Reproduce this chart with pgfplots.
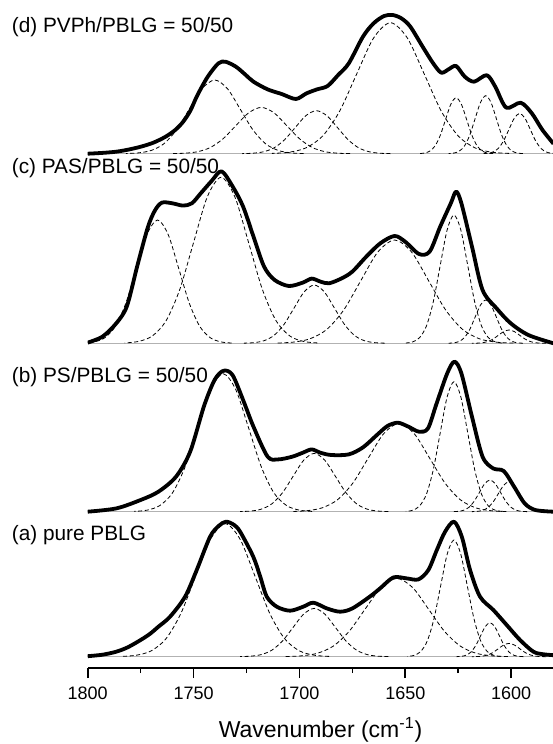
\documentclass[border=0pt]{standalone}
\usepackage{fontspec}
\setmainfont{Liberation Sans}
\usepackage{pgfplots}
\pgfplotsset{compat=1.18}

\pgfplotsset{
  tot/.style={black, line width=1.9pt, line join=round, smooth, no marks},
  comp/.style={black, line width=0.4pt, dash pattern=on 2pt off 1.3pt, smooth, no marks},
  base/.style={gray!60, line width=0.5pt, no marks},
  pa/.style={y filter/.expression={y+11.3}},
  pb/.style={y filter/.expression={y+156.3}},
  pc/.style={y filter/.expression={y+324.7}},
  pd/.style={y filter/.expression={y+514.3}},
}

\begin{document}
\begin{tikzpicture}
\path[use as bounding box] (0,0) rectangle (276pt,372pt);
\begin{axis}[
  at={(43.85pt,38pt)}, anchor=south west,
  scale only axis, width=232.9pt, height=334pt,
  xmin=1580, xmax=1800, ymin=0, ymax=668,
  x dir=reverse,
  axis x line*=bottom, axis y line=none, ytick=\empty,
  axis line style={line width=0.85pt, -},
  xtick={1600,1650,...,1800},
  xticklabels={},
  minor x tick num=1,
  tick align=outside,
  major tick length=5pt, minor tick length=2.5pt,
  tick style={line width=0.85pt, black},
  clip mode=individual,
]

% ---------- zero lines
\addplot[base] coordinates {(1800,11.3) (1580,11.3)};
\addplot[base] coordinates {(1800,156.3) (1580,156.3)};
\addplot[base] coordinates {(1800,324.7) (1580,324.7)};
\addplot[base] coordinates {(1800,514.3) (1580,514.3)};

% ---------- (d) PVPh/PBLG
\addplot[comp,pd] coordinates {(1698,0.16)(1704,0.82)(1710,3.24)(1716,9.97)(1722,23.93)(1728,44.70)(1734,65.04)(1740,73.7)(1746,65.04)(1752,44.70)(1758,23.93)(1764,9.97)(1770,3.24)(1776,0.82)(1782,0.16)};
\addplot[comp,pd] coordinates {(1676,0.10)(1682,0.51)(1688,2.03)(1694,6.26)(1700,15.03)(1706,28.08)(1712,40.86)(1718,46.3)(1724,40.86)(1730,28.08)(1736,15.03)(1742,6.26)(1748,2.03)(1754,0.51)(1760,0.10)};
\addplot[comp,pd] coordinates {(1657,0.09)(1662,0.48)(1667,1.89)(1672,5.82)(1677,13.96)(1682,26.08)(1687,37.95)(1692,43)(1697,37.95)(1702,26.08)(1707,13.96)(1712,5.82)(1717,1.89)(1722,0.48)(1727,0.09)};
\addplot[comp,pd] coordinates {(1601,0.29)(1609,1.45)(1617,5.75)(1625,17.72)(1633,42.54)(1641,79.45)(1649,115.6)(1657,131)(1665,115.6)(1673,79.45)(1681,42.54)(1689,17.72)(1697,5.75)(1705,1.45)(1713,0.29)};
\addplot[comp,pd] coordinates {(1608.5,0.12)(1611,0.62)(1613.5,2.46)(1616,7.58)(1618.5,18.18)(1621,33.96)(1623.5,49.42)(1626,56)(1628.5,49.42)(1631,33.96)(1633.5,18.18)(1636,7.58)(1638.5,2.46)(1641,0.62)(1643.5,0.12)};
\addplot[comp,pd] coordinates {(1594.5,0.13)(1597,0.64)(1599.5,2.55)(1602,7.85)(1604.5,18.83)(1607,35.18)(1609.5,51.19)(1612,58)(1614.5,51.19)(1617,35.18)(1619.5,18.83)(1622,7.85)(1624.5,2.55)(1627,0.64)(1629.5,0.13)};
\addplot[comp,pd] coordinates {(1578.5,0.09)(1581,0.45)(1583.5,1.77)(1586,5.45)(1588.5,13.09)(1591,24.44)(1593.5,35.56)(1596,40.3)(1598.5,35.56)(1601,24.44)(1603.5,13.09)(1606,5.45)(1608.5,1.77)(1611,0.45)(1613.5,0.09)};
\addplot[tot,pd] coordinates {(1800,0)(1793,0.8)(1786.5,2)(1781,4)(1774.9,7)(1769,11)(1763.2,17)(1758.5,24)(1754.9,32)(1751.5,43)(1748.3,58)(1743.3,77)(1738.3,90.3)(1735,92)(1730,87)(1725.5,79)(1721.7,72)(1715,64.3)(1708.4,59.7)(1701.7,54.7)(1696.7,60.3)(1691.7,64.3)(1686.7,67.7)(1681.7,78.7)(1676.7,90.3)(1670,117)(1665,130.3)(1660,137.7)(1656,138.7)(1651.8,135.3)(1647.6,127)(1641.8,107)(1636.8,90.3)(1633,81)(1629.3,84.7)(1626,87.7)(1621.9,77)(1617.5,72)(1611.5,78.5)(1607.5,67)(1602.3,46)(1595.5,51)(1590.2,40.3)(1585.3,24)(1580,10)};

% ---------- (c) PAS/PBLG
\addplot[comp,pc] coordinates {(1732,0.27)(1737,1.37)(1742,5.41)(1747,16.68)(1752,40.04)(1757,74.78)(1762,108.8)(1767,123.3)(1772,108.8)(1777,74.78)(1782,40.04)(1787,16.68)(1792,5.41)(1797,1.37)(1802,0.27)};
\addplot[comp,pc] coordinates {(1691.5,0.37)(1698,1.84)(1704.5,7.29)(1711,22.46)(1717.5,53.90)(1724,100.7)(1730.5,146.5)(1737,166)(1743.5,146.5)(1750,100.7)(1756.5,53.90)(1763,22.46)(1769.5,7.29)(1776,1.84)(1782.5,0.37)};
\addplot[comp,pc] coordinates {(1659.75,0.13)(1664.5,0.65)(1669.25,2.56)(1674,7.89)(1678.75,18.93)(1683.5,35.36)(1688.25,51.45)(1693,58.3)(1697.75,51.45)(1702.5,35.36)(1707.25,18.93)(1712,7.89)(1716.75,2.56)(1721.5,0.65)(1726.25,0.13)};
\addplot[comp,pc] coordinates {(1599,0.23)(1607,1.15)(1615,4.53)(1623,13.98)(1631,33.54)(1639,62.65)(1647,91.16)(1655,103.3)(1663,91.16)(1671,62.65)(1679,33.54)(1687,13.98)(1695,4.53)(1703,1.15)(1711,0.23)};
\addplot[comp,pc] coordinates {(1604.25,0.28)(1607.5,1.42)(1610.75,5.63)(1614,17.36)(1617.25,41.66)(1620.5,77.81)(1623.75,113.2)(1627,128.3)(1630.25,113.2)(1633.5,77.81)(1636.75,41.66)(1640,17.36)(1643.25,5.63)(1646.5,1.42)(1649.75,0.28)};
\addplot[comp,pc] coordinates {(1594.5,0.10)(1597,0.48)(1599.5,1.90)(1602,5.86)(1604.5,14.06)(1607,26.26)(1609.5,38.21)(1612,43.3)(1614.5,38.21)(1617,26.26)(1619.5,14.06)(1622,5.86)(1624.5,1.90)(1627,0.48)(1629.5,0.10)};
\addplot[comp,pc] coordinates {(1583.5,0.03)(1586,0.15)(1588.5,0.58)(1591,1.80)(1593.5,4.32)(1596,8.07)(1598.5,11.74)(1601,13.3)(1603.5,11.74)(1606,8.07)(1608.5,4.32)(1611,1.80)(1613.5,0.58)(1616,0.15)(1618.5,0.03)};
\addplot[tot,pc] coordinates {(1800,0.7)(1793,6.7)(1786.5,20)(1781.5,37)(1776.5,78)(1771.6,116)(1768.2,133)(1764.9,140.7)(1760,140)(1755,137.7)(1750.8,140)(1746.6,150)(1741.6,162)(1736.8,172)(1731.6,157)(1726.6,136.7)(1721.7,106.7)(1716.7,76.7)(1711.7,63.3)(1705,57.3)(1698.4,60.7)(1694.2,64.7)(1690.1,61.7)(1686,60)(1680,65)(1675,71.7)(1668.4,86.7)(1661.8,100)(1655.1,107.3)(1650.1,101.7)(1643.5,89.3)(1638.5,91.7)(1633.5,116.7)(1628.5,140)(1626,151.7)(1623.5,140)(1618.5,96.7)(1613.5,53.3)(1606.9,35)(1600.2,20)(1591.9,8.3)(1580,0)};

% ---------- (b) PS/PBLG
\addplot[comp,pb] coordinates {(1694,0.30)(1700,1.53)(1706,6.06)(1712,18.67)(1718,44.81)(1724,83.70)(1730,121.8)(1736,138)(1742,121.8)(1748,83.70)(1754,44.81)(1760,18.67)(1766,6.06)(1772,1.53)(1778,0.30)};
\addplot[comp,pb] coordinates {(1658,0.13)(1663,0.65)(1668,2.56)(1673,7.89)(1678,18.93)(1683,35.36)(1688,51.45)(1693,58.3)(1698,51.45)(1703,35.36)(1708,18.93)(1713,7.89)(1718,2.56)(1723,0.65)(1728,0.13)};
\addplot[comp,pb] coordinates {(1602.25,0.19)(1609.5,0.98)(1616.75,3.88)(1624,11.95)(1631.25,28.67)(1638.5,53.55)(1645.75,77.92)(1653,88.3)(1660.25,77.92)(1667.5,53.55)(1674.75,28.67)(1682,11.95)(1689.25,3.88)(1696.5,0.98)(1703.75,0.19)};
\addplot[comp,pb] coordinates {(1604.25,0.29)(1607.5,1.44)(1610.75,5.71)(1614,17.59)(1617.25,42.21)(1620.5,78.85)(1623.75,114.7)(1627,130)(1630.25,114.7)(1633.5,78.85)(1636.75,42.21)(1640,17.59)(1643.25,5.71)(1646.5,1.44)(1649.75,0.29)};
\addplot[comp,pb] coordinates {(1592.5,0.07)(1595,0.35)(1597.5,1.39)(1600,4.29)(1602.5,10.29)(1605,19.23)(1607.5,27.97)(1610,31.7)(1612.5,27.97)(1615,19.23)(1617.5,10.29)(1620,4.29)(1622.5,1.39)(1625,0.35)(1627.5,0.07)};
\addplot[comp,pb] coordinates {(1583.5,0.07)(1586,0.33)(1588.5,1.32)(1591,4.06)(1593.5,9.74)(1596,18.20)(1598.5,26.48)(1601,30)(1603.5,26.48)(1606,18.20)(1608.5,9.74)(1611,4.06)(1613.5,1.32)(1616,0.33)(1618.5,0.07)};
\addplot[tot,pb] coordinates {(1800,0)(1786.5,3.3)(1775,11.7)(1766.6,20)(1758.3,35)(1751.6,60)(1745,106)(1740,132)(1735.8,141)(1731.6,136.7)(1726.6,111.7)(1721.7,85)(1715,55)(1710,52.3)(1703.4,55)(1698.4,59)(1694.2,62.3)(1690.1,59)(1685,56.7)(1676.7,57.3)(1670,64.3)(1663.4,76.7)(1658.4,85.7)(1653.5,89)(1648.5,85)(1643.5,80)(1639.3,83.3)(1635.2,108.3)(1630.2,138.3)(1626.8,150)(1623.5,138.3)(1618.5,95)(1613.5,55)(1608.5,43.3)(1603.5,40.7)(1598.6,25)(1593.6,8.3)(1588.6,1.7)(1580,0)};

% ---------- (a) pure PBLG
\addplot[comp,pa] coordinates {(1686,0.29)(1693,1.48)(1700,5.84)(1707,18.0)(1714,43.19)(1721,80.66)(1728,117.4)(1735,133)(1742,117.4)(1749,80.66)(1756,43.19)(1763,18.0)(1770,5.84)(1777,1.48)(1784,0.29)};
\addplot[comp,pa] coordinates {(1658,0.11)(1663,0.54)(1668,2.12)(1673,6.54)(1678,15.68)(1683,29.29)(1688,42.62)(1693,48.3)(1698,42.62)(1703,29.29)(1708,15.68)(1713,6.54)(1718,2.12)(1723,0.54)(1728,0.11)};
\addplot[comp,pa] coordinates {(1601.5,0.17)(1609,0.87)(1616.5,3.44)(1624,10.59)(1631.5,25.42)(1639,47.49)(1646.5,69.10)(1654,78.3)(1661.5,69.10)(1669,47.49)(1676.5,25.42)(1684,10.59)(1691.5,3.44)(1699,0.87)(1706.5,0.17)};
\addplot[comp,pa] coordinates {(1604.95,0.26)(1608.1,1.30)(1611.25,5.12)(1614.4,15.79)(1617.55,37.89)(1620.7,70.78)(1623.85,103.0)(1627,116.7)(1630.15,103.0)(1633.3,70.78)(1636.45,37.89)(1639.6,15.79)(1642.75,5.12)(1645.9,1.30)(1649.05,0.26)};
\addplot[comp,pa] coordinates {(1594.25,0.07)(1596.5,0.38)(1598.75,1.49)(1601,4.60)(1603.25,11.04)(1605.5,20.62)(1607.75,30.01)(1610,34)(1612.25,30.01)(1614.5,20.62)(1616.75,11.04)(1619,4.60)(1621.25,1.49)(1623.5,0.38)(1625.75,0.07)};
\addplot[comp,pa] coordinates {(1583.5,0.03)(1586,0.15)(1588.5,0.58)(1591,1.80)(1593.5,4.32)(1596,8.07)(1598.5,11.74)(1601,13.3)(1603.5,11.74)(1606,8.07)(1608.5,4.32)(1611,1.80)(1613.5,0.58)(1616,0.15)(1618.5,0.03)};
\addplot[tot,pa] coordinates {(1800,0.5)(1793,2)(1786.5,5)(1781,9.5)(1775,16.7)(1770.5,23)(1766.6,30)(1761.1,40)(1754,60)(1748.5,86.7)(1742.2,120)(1738,131)(1734.7,135)(1731,132)(1728,125)(1721.8,100)(1718.5,80)(1715.4,60)(1710.7,50)(1704.4,46)(1698.2,50)(1693.4,54)(1687.1,48.3)(1680.8,45)(1675,48.3)(1666.8,60)(1661.9,68.3)(1655.6,79.3)(1649.3,78.3)(1643.8,77.3)(1639.1,86.7)(1635.1,106.7)(1631.2,125)(1627,135)(1623.3,120)(1619.4,86.7)(1614.7,60)(1608.4,46.7)(1602.1,31.7)(1595.8,16.7)(1589.5,5)(1585,2.5)(1580,1.5)};

% ---------- panel labels
\node[anchor=west, inner sep=0pt, font=\fontsize{10.4}{12}\selectfont] at (axis cs:1836,641.3) {(d) PVPh/PBLG = 50/50};
\node[anchor=west, inner sep=0pt, font=\fontsize{10.4}{12}\selectfont] at (axis cs:1836,499.7) {(c) PAS/PBLG = 50/50};
\node[anchor=west, inner sep=0pt, font=\fontsize{10.4}{12}\selectfont] at (axis cs:1836,291.3) {(b) PS/PBLG = 50/50};
\node[anchor=west, inner sep=0pt, font=\fontsize{10.4}{12}\selectfont] at (axis cs:1836,133) {(a) pure PBLG};

% ---------- tick labels and axis title (below ymin)
\node[font=\fontsize{9}{10}\selectfont] at (axis cs:1800,-25) {1800};
\node[font=\fontsize{9}{10}\selectfont] at (axis cs:1750,-25) {1750};
\node[font=\fontsize{9}{10}\selectfont] at (axis cs:1700,-25) {1700};
\node[font=\fontsize{9}{10}\selectfont] at (axis cs:1650,-25) {1650};
\node[font=\fontsize{9}{10}\selectfont] at (axis cs:1600,-25) {1600};
\node[font=\fontsize{11.5}{13}\selectfont] at (axis cs:1690,-62) {Wavenumber (cm\textsuperscript{-1})};
\end{axis}
\end{tikzpicture}
\end{document}
